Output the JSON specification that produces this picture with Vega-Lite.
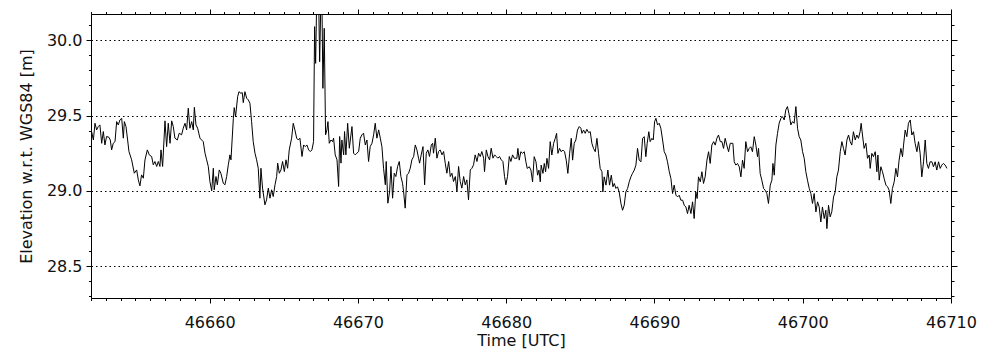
{
"$schema": "https://vega.github.io/schema/vega-lite/v6.json",
"width": 860, "height": 284,
"autosize": "none",
"padding": {"left": 91, "top": 14, "right": 30, "bottom": 62},
"background": "white",
"config": {
  "view": {"stroke": "black", "strokeWidth": 1},
  "font": "DejaVu Sans",
  "axis": {"domain": false, "tickColor": "black", "tickWidth": 1, "labelColor": "#111111", "titleColor": "#111111", "labelFont": "DejaVu Sans", "titleFont": "DejaVu Sans", "labelFontSize": 16, "titleFontSize": 16, "titleFontWeight": "normal", "labelOverlap": false, "labelFlush": false, "labelBound": false}
},
"data": {"values": [
{"t":46652.04,"e":29.394},{"t":46652.16,"e":29.338},{"t":46652.27,"e":29.449},{"t":46652.38,"e":29.405},{"t":46652.49,"e":29.427},{"t":46652.60,"e":29.438},{"t":46652.72,"e":29.316},{"t":46652.83,"e":29.394},{"t":46652.94,"e":29.305},{"t":46653.05,"e":29.361},{"t":46653.21,"e":29.356},{"t":46653.30,"e":29.338},{"t":46653.39,"e":29.272},{"t":46653.50,"e":29.316},{"t":46653.62,"e":29.327},{"t":46653.73,"e":29.460},{"t":46653.84,"e":29.438},{"t":46653.95,"e":29.471},{"t":46654.07,"e":29.482},{"t":46654.18,"e":29.350},{"t":46654.25,"e":29.460},{"t":46654.36,"e":29.427},{"t":46654.47,"e":29.338},{"t":46654.56,"e":29.261},{"t":46654.74,"e":29.206},{"t":46654.92,"e":29.117},{"t":46655.08,"e":29.139},{"t":46655.19,"e":29.073},{"t":46655.30,"e":29.033},{"t":46655.41,"e":29.106},{"t":46655.53,"e":29.084},{"t":46655.64,"e":29.206},{"t":46655.80,"e":29.272},{"t":46655.93,"e":29.239},{"t":46656.09,"e":29.228},{"t":46656.20,"e":29.173},{"t":46656.31,"e":29.195},{"t":46656.43,"e":29.162},{"t":46656.54,"e":29.195},{"t":46656.65,"e":29.162},{"t":46656.72,"e":29.272},{"t":46656.83,"e":29.162},{"t":46656.99,"e":29.465},{"t":46657.10,"e":29.294},{"t":46657.21,"e":29.449},{"t":46657.33,"e":29.316},{"t":46657.44,"e":29.465},{"t":46657.55,"e":29.427},{"t":46657.66,"e":29.350},{"t":46657.82,"e":29.338},{"t":46657.95,"e":29.383},{"t":46658.11,"e":29.372},{"t":46658.22,"e":29.416},{"t":46658.34,"e":29.449},{"t":46658.45,"e":29.405},{"t":46658.56,"e":29.549},{"t":46658.67,"e":29.416},{"t":46658.79,"e":29.460},{"t":46658.90,"e":29.405},{"t":46658.97,"e":29.555},{"t":46659.08,"e":29.438},{"t":46659.19,"e":29.416},{"t":46659.35,"e":29.350},{"t":46659.46,"e":29.338},{"t":46659.57,"e":29.327},{"t":46659.69,"e":29.250},{"t":46659.80,"e":29.206},{"t":46659.91,"e":29.162},{"t":46660.02,"e":29.062},{"t":46660.14,"e":29.000},{"t":46660.25,"e":29.150},{"t":46660.31,"e":29.007},{"t":46660.43,"e":29.095},{"t":46660.52,"e":29.040},{"t":46660.65,"e":29.139},{"t":46660.76,"e":29.117},{"t":46660.92,"e":29.051},{"t":46661.03,"e":29.040},{"t":46661.15,"e":29.095},{"t":46661.26,"e":29.173},{"t":46661.37,"e":29.239},{"t":46661.44,"e":29.206},{"t":46661.60,"e":29.482},{"t":46661.66,"e":29.553},{"t":46661.75,"e":29.493},{"t":46661.89,"e":29.626},{"t":46661.98,"e":29.659},{"t":46662.11,"e":29.648},{"t":46662.20,"e":29.653},{"t":46662.27,"e":29.586},{"t":46662.38,"e":29.659},{"t":46662.50,"e":29.615},{"t":46662.61,"e":29.604},{"t":46662.72,"e":29.582},{"t":46662.83,"e":29.460},{"t":46662.94,"e":29.327},{"t":46663.06,"e":29.250},{"t":46663.17,"e":29.206},{"t":46663.28,"e":29.150},{"t":46663.39,"e":28.951},{"t":46663.46,"e":29.150},{"t":46663.57,"e":29.018},{"t":46663.73,"e":28.907},{"t":46663.84,"e":28.940},{"t":46663.96,"e":29.018},{"t":46664.07,"e":28.951},{"t":46664.18,"e":29.007},{"t":46664.29,"e":28.962},{"t":46664.41,"e":29.040},{"t":46664.52,"e":29.095},{"t":46664.59,"e":29.184},{"t":46664.70,"e":29.117},{"t":46664.81,"e":29.139},{"t":46664.92,"e":29.195},{"t":46665.04,"e":29.128},{"t":46665.15,"e":29.206},{"t":46665.26,"e":29.150},{"t":46665.37,"e":29.272},{"t":46665.53,"e":29.350},{"t":46665.64,"e":29.449},{"t":46665.75,"e":29.405},{"t":46665.87,"e":29.350},{"t":46665.98,"e":29.338},{"t":46666.09,"e":29.350},
{"t":46666.23,"e":29.228},{"t":46666.34,"e":29.305},{"t":46666.45,"e":29.294},{"t":46666.56,"e":29.305},{"t":46666.68,"e":29.272},{"t":46666.79,"e":29.261},{"t":46666.90,"e":29.272},{"t":46667.01,"e":29.327},{"t":46667.08,"e":30.091},{"t":46667.15,"e":29.847},{"t":46667.21,"e":30.2},{"t":46667.28,"e":30.3},{"t":46667.35,"e":30.3},{"t":46667.42,"e":29.858},{"t":46667.51,"e":30.3},{"t":46667.57,"e":30.3},{"t":46667.64,"e":29.681},{"t":46667.73,"e":30.080},{"t":46667.82,"e":29.372},{"t":46667.91,"e":29.405},{"t":46667.98,"e":29.460},{"t":46668.07,"e":29.316},{"t":46668.18,"e":29.338},{"t":46668.29,"e":29.327},{"t":46668.36,"e":29.350},{"t":46668.47,"e":29.239},{"t":46668.59,"e":29.206},{"t":46668.70,"e":29.029},{"t":46668.77,"e":29.361},{"t":46668.86,"e":29.184},{"t":46668.92,"e":29.338},{"t":46669.04,"e":29.239},{"t":46669.10,"e":29.394},{"t":46669.19,"e":29.239},{"t":46669.31,"e":29.449},{"t":46669.42,"e":29.283},{"t":46669.49,"e":29.338},{"t":46669.60,"e":29.427},{"t":46669.71,"e":29.250},{"t":46669.82,"e":29.239},{"t":46669.93,"e":29.250},{"t":46670.05,"e":29.261},{"t":46670.16,"e":29.350},{"t":46670.27,"e":29.372},{"t":46670.38,"e":29.383},{"t":46670.50,"e":29.305},{"t":46670.61,"e":29.338},{"t":46670.72,"e":29.195},{"t":46670.83,"e":29.294},{"t":46670.95,"e":29.316},{"t":46671.06,"e":29.372},{"t":46671.17,"e":29.449},{"t":46671.28,"e":29.350},{"t":46671.40,"e":29.405},{"t":46671.51,"e":29.350},{"t":46671.62,"e":29.294},{"t":46671.73,"e":29.150},{"t":46671.85,"e":29.040},{"t":46671.91,"e":29.195},{"t":46672.02,"e":28.918},{"t":46672.14,"e":28.996},{"t":46672.23,"e":29.162},{"t":46672.34,"e":28.951},{"t":46672.45,"e":29.117},{"t":46672.56,"e":29.095},{"t":46672.68,"e":29.162},{"t":46672.79,"e":29.195},{"t":46672.90,"e":29.095},{"t":46673.01,"e":29.051},{"t":46673.08,"e":28.996},{"t":46673.19,"e":28.885},{"t":46673.31,"e":29.106},{"t":46673.42,"e":29.117},{"t":46673.53,"e":29.150},{"t":46673.64,"e":29.206},{"t":46673.76,"e":29.228},{"t":46673.87,"e":29.305},{"t":46673.98,"e":29.272},{"t":46674.09,"e":29.217},{"t":46674.16,"e":29.184},{"t":46674.27,"e":29.239},{"t":46674.39,"e":29.294},{"t":46674.50,"e":29.040},{"t":46674.61,"e":29.250},{"t":46674.72,"e":29.272},{"t":46674.83,"e":29.228},{"t":46674.95,"e":29.305},{"t":46675.04,"e":29.316},{"t":46675.10,"e":29.250},{"t":46675.22,"e":29.350},{"t":46675.33,"e":29.217},{"t":46675.44,"e":29.261},{"t":46675.55,"e":29.272},{"t":46675.67,"e":29.239},{"t":46675.78,"e":29.261},{"t":46675.89,"e":29.184},{"t":46676.00,"e":29.117},{"t":46676.12,"e":29.195},{"t":46676.23,"e":29.095},{"t":46676.34,"e":29.117},{"t":46676.45,"e":29.062},{"t":46676.57,"e":29.095},{"t":46676.68,"e":28.996},{"t":46676.79,"e":29.162},{"t":46676.90,"e":29.062},{"t":46677.01,"e":29.018},{"t":46677.13,"e":29.095},{"t":46677.24,"e":29.040},{"t":46677.35,"e":29.073},{"t":46677.46,"e":28.940},{"t":46677.58,"e":29.139},{"t":46677.69,"e":29.150},{"t":46677.80,"e":29.173},{"t":46677.91,"e":29.239},{"t":46678.03,"e":29.195},{"t":46678.14,"e":29.250},{"t":46678.25,"e":29.228},{"t":46678.36,"e":29.261},{"t":46678.48,"e":29.217},{"t":46678.54,"e":29.128},{"t":46678.66,"e":29.272},{"t":46678.77,"e":29.228},{"t":46678.88,"e":29.206},{"t":46678.99,"e":29.283},{"t":46679.11,"e":29.217},{"t":46679.22,"e":29.239},{"t":46679.33,"e":29.228},{"t":46679.44,"e":29.217},{"t":46679.55,"e":29.228},{"t":46679.67,"e":29.206},{"t":46679.78,"e":29.195},{"t":46679.89,"e":29.095},{"t":46679.98,"e":29.040},{"t":46680.09,"e":29.095},{"t":46680.21,"e":29.228},{"t":46680.32,"e":29.195},{"t":46680.43,"e":29.239},{"t":46680.54,"e":29.217},
{"t":46680.72,"e":29.216},{"t":46680.79,"e":29.282},{"t":46680.88,"e":29.204},{"t":46680.99,"e":29.260},{"t":46681.11,"e":29.249},{"t":46681.22,"e":29.260},{"t":46681.33,"e":29.193},{"t":46681.42,"e":29.149},{"t":46681.56,"e":29.160},{"t":46681.67,"e":29.138},{"t":46681.78,"e":29.060},{"t":46681.89,"e":29.227},{"t":46682.01,"e":29.193},{"t":46682.12,"e":29.104},{"t":46682.21,"e":29.138},{"t":46682.30,"e":29.060},{"t":46682.36,"e":29.171},{"t":46682.48,"e":29.116},{"t":46682.57,"e":29.182},{"t":46682.66,"e":29.127},{"t":46682.75,"e":29.216},{"t":46682.86,"e":29.149},{"t":46682.97,"e":29.327},{"t":46683.08,"e":29.238},{"t":46683.20,"e":29.316},{"t":46683.31,"e":29.349},{"t":46683.40,"e":29.382},{"t":46683.49,"e":29.249},{"t":46683.60,"e":29.282},{"t":46683.71,"e":29.260},{"t":46683.83,"e":29.271},{"t":46683.94,"e":29.260},{"t":46684.05,"e":29.204},{"t":46684.16,"e":29.116},{"t":46684.28,"e":29.249},{"t":46684.39,"e":29.349},{"t":46684.48,"e":29.204},{"t":46684.59,"e":29.316},{"t":46684.70,"e":29.338},{"t":46684.81,"e":29.404},{"t":46684.93,"e":29.427},{"t":46685.04,"e":29.416},{"t":46685.11,"e":29.382},{"t":46685.22,"e":29.404},{"t":46685.33,"e":29.382},{"t":46685.44,"e":29.409},{"t":46685.56,"e":29.387},{"t":46685.67,"e":29.393},{"t":46685.78,"e":29.316},{"t":46685.89,"e":29.282},{"t":46686.01,"e":29.260},{"t":46686.12,"e":29.349},{"t":46686.23,"e":29.249},{"t":46686.34,"e":29.149},{"t":46686.46,"e":29.127},{"t":46686.52,"e":28.993},{"t":46686.61,"e":29.093},{"t":46686.73,"e":29.038},{"t":46686.86,"e":29.138},{"t":46686.97,"e":29.038},{"t":46687.09,"e":29.104},{"t":46687.20,"e":29.027},{"t":46687.29,"e":29.049},{"t":46687.40,"e":29.016},{"t":46687.51,"e":29.027},{"t":46687.62,"e":28.993},{"t":46687.74,"e":28.916},{"t":46687.85,"e":28.871},{"t":46687.96,"e":28.904},{"t":46688.07,"e":28.993},{"t":46688.19,"e":29.016},{"t":46688.30,"e":29.060},{"t":46688.41,"e":29.093},{"t":46688.52,"e":29.116},{"t":46688.64,"e":29.138},{"t":46688.75,"e":29.171},{"t":46688.86,"e":29.282},{"t":46688.97,"e":29.204},{"t":46689.09,"e":29.193},{"t":46689.20,"e":29.349},{"t":46689.31,"e":29.360},{"t":46689.42,"e":29.227},{"t":46689.51,"e":29.316},{"t":46689.62,"e":29.393},{"t":46689.71,"e":29.327},{"t":46689.83,"e":29.349},{"t":46689.92,"e":29.338},{"t":46690.01,"e":29.460},{"t":46690.10,"e":29.482},{"t":46690.21,"e":29.438},{"t":46690.32,"e":29.449},{"t":46690.43,"e":29.416},{"t":46690.55,"e":29.338},{"t":46690.66,"e":29.260},{"t":46690.77,"e":29.238},{"t":46690.88,"e":29.193},{"t":46691.00,"e":29.127},{"t":46691.11,"e":29.082},{"t":46691.22,"e":28.982},{"t":46691.33,"e":29.038},{"t":46691.45,"e":28.971},{"t":46691.56,"e":28.960},{"t":46691.67,"e":28.971},{"t":46691.78,"e":28.938},{"t":46691.90,"e":28.938},{"t":46692.01,"e":28.904},{"t":46692.12,"e":28.893},{"t":46692.23,"e":28.849},{"t":46692.34,"e":28.904},{"t":46692.46,"e":28.849},{"t":46692.57,"e":28.927},{"t":46692.68,"e":28.816},{"t":46692.79,"e":28.993},{"t":46692.88,"e":28.949},{"t":46692.97,"e":29.093},{"t":46693.09,"e":29.060},{"t":46693.20,"e":29.127},{"t":46693.31,"e":29.049},{"t":46693.42,"e":29.093},{"t":46693.54,"e":29.204},{"t":46693.65,"e":29.260},{"t":46693.76,"e":29.182},{"t":46693.87,"e":29.304},{"t":46693.99,"e":29.327},{"t":46694.10,"e":29.304},{"t":46694.21,"e":29.349},{"t":46694.32,"e":29.371},{"t":46694.44,"e":29.327},{"t":46694.55,"e":29.327},{"t":46694.66,"e":29.282},{"t":46694.77,"e":29.349},{"t":46694.88,"e":29.304},{"t":46695.00,"e":29.260},{"t":46695.11,"e":29.316},
{"t":46695.29,"e":29.316},{"t":46695.38,"e":29.193},{"t":46695.49,"e":29.171},{"t":46695.60,"e":29.182},{"t":46695.72,"e":29.160},{"t":46695.83,"e":29.093},{"t":46695.94,"e":29.204},{"t":46696.05,"e":29.149},{"t":46696.16,"e":29.327},{"t":46696.28,"e":29.260},{"t":46696.39,"e":29.282},{"t":46696.50,"e":29.293},{"t":46696.61,"e":29.260},{"t":46696.73,"e":29.360},{"t":46696.84,"e":29.304},{"t":46696.95,"e":29.227},{"t":46697.02,"e":29.282},{"t":46697.13,"e":29.116},{"t":46697.24,"e":29.071},{"t":46697.36,"e":29.016},{"t":46697.47,"e":29.004},{"t":46697.58,"e":28.982},{"t":46697.69,"e":28.916},{"t":46697.81,"e":29.038},{"t":46697.92,"e":29.071},{"t":46697.99,"e":29.182},{"t":46698.08,"e":29.104},{"t":46698.19,"e":29.304},{"t":46698.30,"e":29.382},{"t":46698.41,"e":29.449},{"t":46698.53,"e":29.482},{"t":46698.64,"e":29.493},{"t":46698.75,"e":29.471},{"t":46698.86,"e":29.538},{"t":46698.97,"e":29.560},{"t":46699.09,"e":29.504},{"t":46699.20,"e":29.438},{"t":46699.31,"e":29.460},{"t":46699.42,"e":29.449},{"t":46699.54,"e":29.560},{"t":46699.65,"e":29.416},{"t":46699.76,"e":29.360},{"t":46699.87,"e":29.338},{"t":46699.99,"e":29.260},{"t":46700.10,"e":29.216},{"t":46700.21,"e":29.127},{"t":46700.32,"e":29.071},{"t":46700.44,"e":29.016},{"t":46700.55,"e":28.982},{"t":46700.66,"e":28.916},{"t":46700.77,"e":28.982},{"t":46700.89,"e":28.860},{"t":46701.00,"e":28.927},{"t":46701.11,"e":28.893},{"t":46701.22,"e":28.793},{"t":46701.33,"e":28.893},{"t":46701.45,"e":28.816},{"t":46701.56,"e":28.871},{"t":46701.63,"e":28.749},{"t":46701.74,"e":28.904},{"t":46701.85,"e":28.827},{"t":46701.96,"e":28.860},{"t":46702.08,"e":28.960},{"t":46702.19,"e":28.993},{"t":46702.30,"e":29.093},{"t":46702.41,"e":29.138},{"t":46702.53,"e":29.260},{"t":46702.64,"e":29.327},{"t":46702.75,"e":29.282},{"t":46702.86,"e":29.238},{"t":46702.98,"e":29.338},{"t":46703.09,"e":29.371},{"t":46703.20,"e":29.327},{"t":46703.31,"e":29.304},{"t":46703.42,"e":29.393},{"t":46703.54,"e":29.338},{"t":46703.65,"e":29.371},{"t":46703.76,"e":29.349},{"t":46703.87,"e":29.393},{"t":46703.94,"e":29.449},{"t":46704.03,"e":29.371},{"t":46704.14,"e":29.282},{"t":46704.26,"e":29.316},{"t":46704.37,"e":29.216},{"t":46704.48,"e":29.238},{"t":46704.55,"e":29.149},{"t":46704.66,"e":29.249},{"t":46704.77,"e":29.227},{"t":46704.89,"e":29.260},{"t":46705.00,"e":29.127},{"t":46705.07,"e":29.238},{"t":46705.16,"e":29.071},{"t":46705.27,"e":29.160},{"t":46705.38,"e":29.127},{"t":46705.49,"e":29.082},{"t":46705.61,"e":29.038},{"t":46705.72,"e":29.027},{"t":46705.83,"e":29.004},{"t":46705.94,"e":28.916},{"t":46706.05,"e":29.016},{"t":46706.17,"e":29.060},{"t":46706.28,"e":29.149},{"t":46706.39,"e":29.093},{"t":46706.50,"e":29.204},{"t":46706.62,"e":29.282},{"t":46706.73,"e":29.227},{"t":46706.80,"e":29.304},{"t":46706.91,"e":29.404},{"t":46707.02,"e":29.360},{"t":46707.13,"e":29.449},{"t":46707.25,"e":29.471},{"t":46707.36,"e":29.371},{"t":46707.47,"e":29.393},{"t":46707.58,"e":29.316},{"t":46707.70,"e":29.260},{"t":46707.81,"e":29.327},{"t":46707.92,"e":29.249},{"t":46708.03,"e":29.093},{"t":46708.15,"e":29.193},{"t":46708.26,"e":29.338},{"t":46708.37,"e":29.182},{"t":46708.48,"e":29.149},{"t":46708.59,"e":29.193},{"t":46708.71,"e":29.193},{"t":46708.82,"e":29.160},{"t":46708.93,"e":29.193},{"t":46709.04,"e":29.138},{"t":46709.16,"e":29.193},{"t":46709.27,"e":29.149},{"t":46709.38,"e":29.171},{"t":46709.49,"e":29.182},{"t":46709.61,"e":29.171},{"t":46709.72,"e":29.149}
]},
"layer": [
  {
    "mark": {"type": "line", "color": "black", "strokeWidth": 1, "clip": true},
    "encoding": {
      "x": {"field": "t", "type": "quantitative", "scale": {"domain": [46652, 46710], "nice": false, "zero": false},
        "axis": {"orient": "bottom", "title": "Time [UTC]", "format": "d", "grid": false,
          "values": [46652,46653,46654,46655,46656,46657,46658,46659,46660,46661,46662,46663,46664,46665,46666,46667,46668,46669,46670,46671,46672,46673,46674,46675,46676,46677,46678,46679,46680,46681,46682,46683,46684,46685,46686,46687,46688,46689,46690,46691,46692,46693,46694,46695,46696,46697,46698,46699,46700,46701,46702,46703,46704,46705,46706,46707,46708,46709,46710],
          "labelExpr": "datum.value % 10 === 0 ? datum.label : ''",
          "tickSize": {"condition": {"test": "datum.value % 10 === 0", "value": 5}, "value": 2.5},
          "labelPadding": 11, "titlePadding": 2}},
      "y": {"field": "e", "type": "quantitative", "scale": {"domain": [28.288, 30.175], "nice": false, "zero": false},
        "axis": {"orient": "left", "title": "Elevation w.r.t. WGS84 [m]", "grid": true, "gridColor": "black", "gridDash": [1.5, 3], "gridWidth": 1,
          "gridOpacity": {"condition": {"test": "abs(datum.value*2 - round(datum.value*2)) < 0.001", "value": 1}, "value": 0},
          "values": [28.3,28.4,28.5,28.6,28.7,28.8,28.9,29.0,29.1,29.2,29.3,29.4,29.5,29.6,29.7,29.8,29.9,30.0,30.1],
          "labelExpr": "abs(datum.value*2 - round(datum.value*2)) < 0.001 ? format(datum.value, '.1f') : ''",
          "tickSize": {"condition": {"test": "abs(datum.value*2 - round(datum.value*2)) < 0.001", "value": 5}, "value": 2.5},
          "labelPadding": 4, "titlePadding": 12}}
    }
  },
  {
    "mark": {"type": "line", "opacity": 0},
    "encoding": {
      "x": {"field": "t", "type": "quantitative", "scale": {"domain": [46652, 46710], "nice": false, "zero": false},
        "axis": {"orient": "top", "title": null, "labels": false, "grid": false,
          "values": [46652,46653,46654,46655,46656,46657,46658,46659,46660,46661,46662,46663,46664,46665,46666,46667,46668,46669,46670,46671,46672,46673,46674,46675,46676,46677,46678,46679,46680,46681,46682,46683,46684,46685,46686,46687,46688,46689,46690,46691,46692,46693,46694,46695,46696,46697,46698,46699,46700,46701,46702,46703,46704,46705,46706,46707,46708,46709,46710],
          "tickSize": {"condition": {"test": "datum.value % 10 === 0", "value": 5}, "value": 2.5}}},
      "y": {"field": "e", "type": "quantitative", "scale": {"domain": [28.288, 30.175], "nice": false, "zero": false},
        "axis": {"orient": "right", "title": null, "labels": false, "grid": false,
          "values": [28.3,28.4,28.5,28.6,28.7,28.8,28.9,29.0,29.1,29.2,29.3,29.4,29.5,29.6,29.7,29.8,29.9,30.0,30.1],
          "tickSize": {"condition": {"test": "abs(datum.value*2 - round(datum.value*2)) < 0.001", "value": 6}, "value": 3}}}
    }
  }
],
"resolve": {"axis": {"x": "independent", "y": "independent"}}
}
